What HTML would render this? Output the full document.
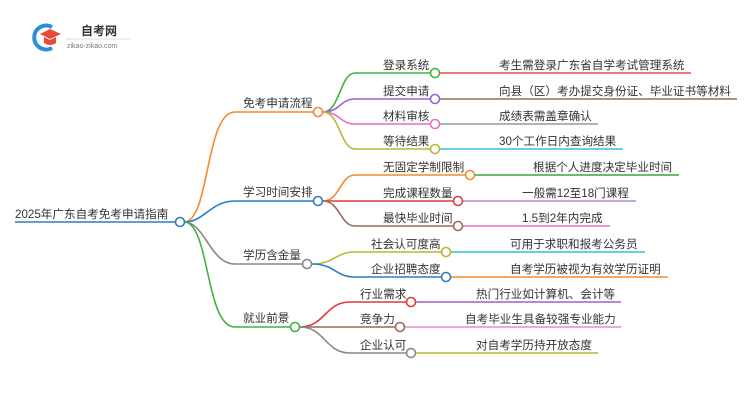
<!DOCTYPE html>
<html><head><meta charset="utf-8"><style>
body{margin:0;background:#fff}
svg{display:block}
text{font-family:"Liberation Sans","Noto Sans CJK SC",sans-serif;font-size:11.6px;fill:#333}
</style></head><body>
<svg width="750" height="410" viewBox="0 0 750 410" xmlns="http://www.w3.org/2000/svg" fill="none" stroke-width="1.6">
<!-- logo -->
<path d="M52 27 A12 12 0 1 0 52 48" stroke="#2a8fd6" stroke-width="4"/>
<path d="M40 34 L50 29 L61 34 L50 39 Z" fill="#e84a3a" stroke="none"/>
<path d="M44 37 L44 43 Q50 47 56 43 L56 37 L50 40 Z" fill="#e84a3a" stroke="none"/>
<text x="81" y="35" style="font-size:12px;font-weight:bold;fill:#333">自考网</text>
<line x1="66" y1="39" x2="131" y2="39" stroke="#ddd" stroke-width="1"/>
<text x="67" y="48" style="font-size:7px;fill:#777">zikao-zikao.com</text>

<!-- root -->
<line x1="15" y1="222" x2="176" y2="222" stroke="#2a7fc4"/>
<text x="15" y="218">2025年广东自考免考申请指南</text>

<path d="M184 222 C210 222 205 112 235 112 L313 112" stroke="#f5892b"/>
<path d="M184 222 C205 222 210 201 235 201 L313 201" stroke="#2a7fc4"/>
<path d="M184 222 C205 222 210 264 235 264 L302 264" stroke="#888"/>
<path d="M184 222 C210 222 205 327 235 327 L290 327" stroke="#3fb33f"/>
<text x="243" y="107">免考申请流程</text>
<text x="243" y="196">学习时间安排</text>
<text x="243" y="259">学历含金量</text>
<text x="243" y="322">就业前景</text>

<path d="M323 112 C340 112 340 73 355 73 L430 73" stroke="#3fb33f"/>
<path d="M323 112 C340 112 340 99 355 99 L430 99" stroke="#a05fd0"/>
<path d="M323 112 C340 112 340 124 355 124 L430 124" stroke="#e86ec8"/>
<path d="M323 112 C340 112 340 149 355 149 L430 149" stroke="#b8b830"/>
<line x1="440" y1="73" x2="691" y2="73" stroke="#e0504a"/>
<line x1="440" y1="99" x2="737" y2="99" stroke="#9a6a5a"/>
<line x1="440" y1="124" x2="598" y2="124" stroke="#999"/>
<line x1="440" y1="149" x2="623" y2="149" stroke="#30c0d8"/>
<text x="383" y="69">登录系统</text>
<text x="383" y="95">提交申请</text>
<text x="383" y="120">材料审核</text>
<text x="383" y="145">等待结果</text>
<text x="499" y="69">考生需登录广东省自学考试管理系统</text>
<text x="499" y="95">向县（区）考办提交身份证、毕业证书等材料</text>
<text x="499" y="120">成绩表需盖章确认</text>
<text x="499" y="145">30个工作日内查询结果</text>

<path d="M323 201 C340 201 340 175 355 175 L465 175" stroke="#f5892b"/>
<path d="M323 201 L453 201" stroke="#e03a3a"/>
<path d="M323 201 C340 201 340 226 355 226 L453 226" stroke="#9a6a5a"/>
<line x1="475" y1="175" x2="679" y2="175" stroke="#3fa040"/>
<line x1="463" y1="201" x2="636" y2="201" stroke="#b088d8"/>
<line x1="463" y1="226" x2="610" y2="226" stroke="#e86ec8"/>
<text x="383" y="171">无固定学制限制</text>
<text x="383" y="197">完成课程数量</text>
<text x="383" y="222">最快毕业时间</text>
<text x="533" y="171">根据个人进度决定毕业时间</text>
<text x="522" y="197">一般需12至18门课程</text>
<text x="522" y="222">1.5到2年内完成</text>

<path d="M312 264 C335 264 335 252 355 252 L441 252" stroke="#b8b830"/>
<path d="M312 264 C335 264 335 277 355 277 L441 277" stroke="#2a7fc4"/>
<line x1="451" y1="252" x2="645" y2="252" stroke="#30c0d8"/>
<line x1="451" y1="277" x2="668" y2="277" stroke="#f5892b"/>
<text x="371" y="248">社会认可度高</text>
<text x="371" y="273">企业招聘态度</text>
<text x="510" y="248">可用于求职和报考公务员</text>
<text x="510" y="273">自考学历被视为有效学历证明</text>

<path d="M300 327 C325 327 325 302 350 302 L406 302" stroke="#e03a3a"/>
<path d="M300 327 L395 327" stroke="#9a6a5a"/>
<path d="M300 327 C325 327 325 353 350 353 L406 353" stroke="#888"/>
<line x1="416" y1="302" x2="621" y2="302" stroke="#a05fd0"/>
<line x1="405" y1="327" x2="621" y2="327" stroke="#e88ac8"/>
<line x1="416" y1="353" x2="598" y2="353" stroke="#b8b830"/>
<text x="360" y="298">行业需求</text>
<text x="360" y="323">竞争力</text>
<text x="360" y="349">企业认可</text>
<text x="476" y="298">热门行业如计算机、会计等</text>
<text x="465" y="323">自考毕业生具备较强专业能力</text>
<text x="476" y="349">对自考学历持开放态度</text>

<g fill="#fff" stroke-width="1.6">
<circle cx="180" cy="222" r="4.5" stroke="#2a7fc4"/>
<circle cx="318" cy="112" r="4.5" stroke="#f5892b"/>
<circle cx="318" cy="201" r="4.5" stroke="#2a7fc4"/>
<circle cx="307" cy="264" r="4.5" stroke="#888"/>
<circle cx="295" cy="327" r="4.5" stroke="#3fb33f"/>
<circle cx="435" cy="73" r="4.5" stroke="#3fb33f"/>
<circle cx="435" cy="99" r="4.5" stroke="#a05fd0"/>
<circle cx="435" cy="124" r="4.5" stroke="#e86ec8"/>
<circle cx="435" cy="149" r="4.5" stroke="#b8b830"/>
<circle cx="470" cy="175" r="4.5" stroke="#f5892b"/>
<circle cx="458" cy="201" r="4.5" stroke="#e03a3a"/>
<circle cx="458" cy="226" r="4.5" stroke="#9a6a5a"/>
<circle cx="446" cy="252" r="4.5" stroke="#b8b830"/>
<circle cx="446" cy="277" r="4.5" stroke="#2a7fc4"/>
<circle cx="411" cy="302" r="4.5" stroke="#e03a3a"/>
<circle cx="400" cy="327" r="4.5" stroke="#9a6a5a"/>
<circle cx="411" cy="353" r="4.5" stroke="#888"/>
</g>
</svg>
</body></html>
